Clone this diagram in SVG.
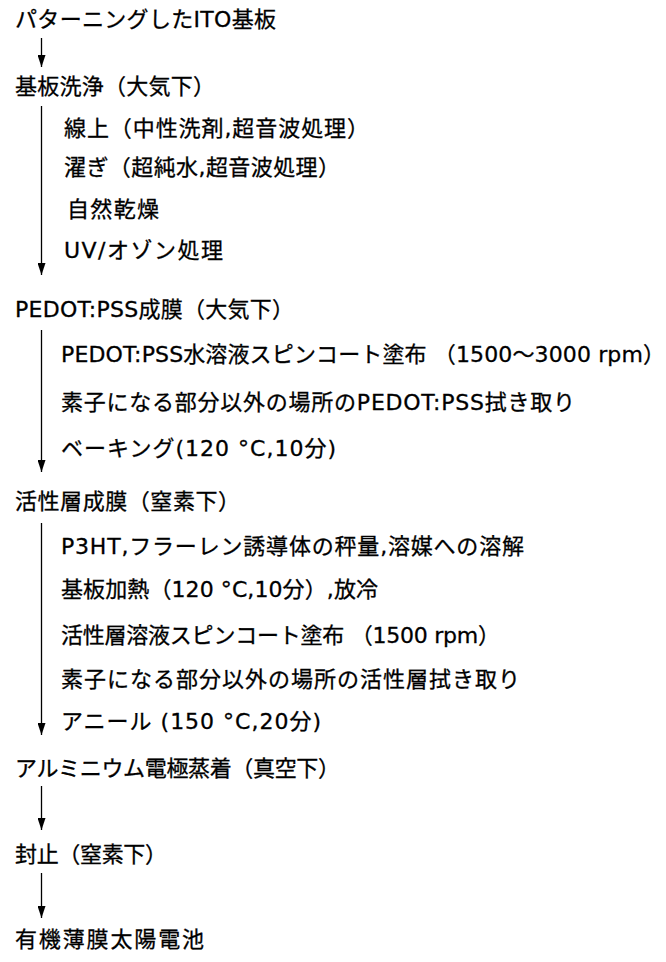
<svg xmlns="http://www.w3.org/2000/svg" width="666" height="962" viewBox="0 0 666 962">
<style>
text{font-family:"DejaVu Sans","Noto Sans CJK JP",sans-serif;font-size:22px;fill:#000;stroke:#000;stroke-width:0.3;lengthAdjust:spacing}
.c line{stroke:#000;stroke-width:1.3;marker-end:url(#ah)}
</style>
<defs>
<marker id="ah" viewBox="0 0 12 8" refX="12" refY="4" markerWidth="12" markerHeight="8" markerUnits="userSpaceOnUse" orient="auto">
<path d="M0,0 L12,4 L0,8 Z" fill="#000"/>
</marker>
</defs>
<rect width="666" height="962" fill="#fff"/>
<g id="n1"><text x="15" y="26.5" textLength="261" lengthAdjust="spacing">パターニングしたITO基板</text></g>
<g id="n2"><text x="15" y="93.5" textLength="200" lengthAdjust="spacing">基板洗浄（大気下）</text></g>
<g id="n2a"><text x="64" y="135.5" textLength="305" lengthAdjust="spacing">線上（中性洗剤,超音波処理）</text></g>
<g id="n2b"><text x="64" y="175" textLength="276" lengthAdjust="spacing">濯ぎ（超純水,超音波処理）</text></g>
<g id="n2c"><text x="67" y="216.5" textLength="92" lengthAdjust="spacing">自然乾燥</text></g>
<g id="n2d"><text x="64" y="258" textLength="159" lengthAdjust="spacing">UV/オゾン処理</text></g>
<g id="n3"><text x="15" y="316.5" textLength="279" lengthAdjust="spacing">PEDOT:PSS成膜（大気下）</text></g>
<g id="n3a"><text x="61" y="361.5" textLength="604" lengthAdjust="spacing">PEDOT:PSS水溶液スピンコート塗布 （1500～3000 rpm）</text></g>
<g id="n3b"><text x="61" y="410" textLength="514" lengthAdjust="spacing">素子になる部分以外の場所のPEDOT:PSS拭き取り</text></g>
<g id="n3c"><text x="61" y="455.5" textLength="275" lengthAdjust="spacing">ベーキング(120 °C,10分)</text></g>
<g id="n4"><text x="15" y="508.5" textLength="225" lengthAdjust="spacing">活性層成膜（窒素下）</text></g>
<g id="n4a"><text x="61" y="553.5" textLength="463" lengthAdjust="spacing">P3HT,フラーレン誘導体の秤量,溶媒への溶解</text></g>
<g id="n4b"><text x="61" y="596.5" textLength="317" lengthAdjust="spacing">基板加熱（120 °C,10分）,放冷</text></g>
<g id="n4c"><text x="61" y="643" textLength="439" lengthAdjust="spacing">活性層溶液スピンコート塗布 （1500 rpm）</text></g>
<g id="n4d"><text x="61" y="686.5" textLength="459" lengthAdjust="spacing">素子になる部分以外の場所の活性層拭き取り</text></g>
<g id="n4e"><text x="61" y="728.5" textLength="260" lengthAdjust="spacing">アニール (150 °C,20分)</text></g>
<g id="n5"><text x="15" y="775.5" textLength="325" lengthAdjust="spacing">アルミニウム電極蒸着（真空下）</text></g>
<g id="n6"><text x="15" y="861.5" textLength="152" lengthAdjust="spacing">封止（窒素下）</text></g>
<g id="n7"><text x="15" y="946.5" textLength="189" lengthAdjust="spacing">有機薄膜太陽電池</text></g>
<g id="connectors" class="c">
<line x1="41.5" y1="38" x2="41.5" y2="67"/>
<line x1="41.5" y1="106" x2="41.5" y2="275"/>
<line x1="41.5" y1="330" x2="41.5" y2="472"/>
<line x1="41.5" y1="523" x2="41.5" y2="735"/>
<line x1="41.5" y1="786" x2="41.5" y2="830"/>
<line x1="41.5" y1="873" x2="41.5" y2="918"/>
</g>
</svg>
